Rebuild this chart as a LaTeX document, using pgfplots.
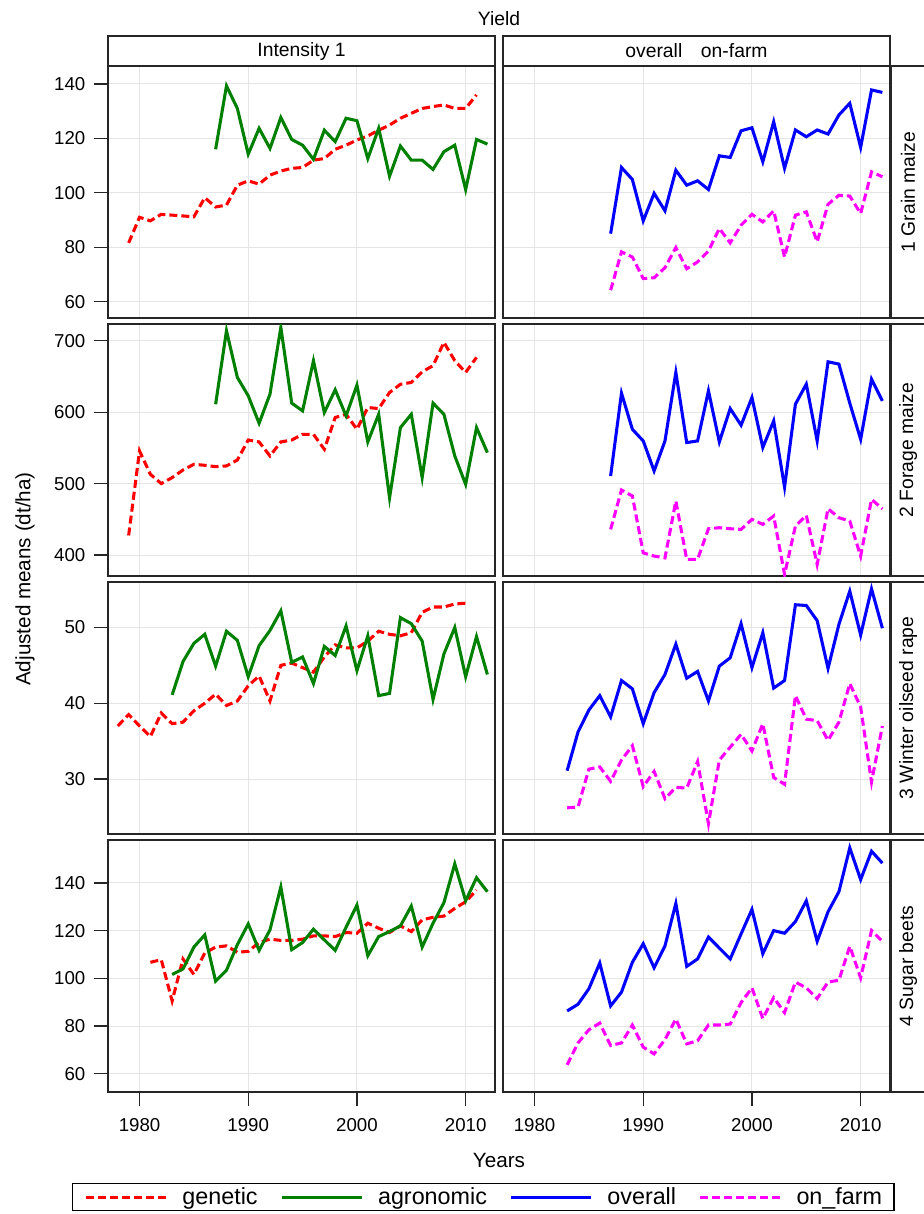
\documentclass[border=0pt]{standalone}
\usepackage{fontspec}
\setmainfont{Liberation Sans}
\usepackage{pgfplots}
\pgfplotsset{compat=1.18}
\definecolor{agrgreen}{RGB}{0,128,0}
\definecolor{onfmag}{RGB}{255,0,255}
\definecolor{ovlblue}{RGB}{0,0,255}
\definecolor{genred}{RGB}{255,0,0}

\pgfplotsset{
  panel/.style={
    scale only axis, width=290.25pt, height=189pt,
    xmin=1977.1, xmax=2012.7,
    xtick={1980,1990,2000,2010},
    grid=major,
    major grid style={black!10, line width=0.7pt},
    axis line style={black!85, line width=1.1pt},
    tick align=outside, major tick length=10.5pt,
    major tick style={black!85, line width=0.9pt},
    xtick pos=bottom, ytick pos=left,
    /pgf/number format/1000 sep={},
    /pgf/number format/assume math mode=true,
    ticklabel style={font=\fontsize{14}{16}\selectfont},
    xticklabel style={yshift=-6pt},
    yticklabel style={xshift=-3pt},
    clip=true,
  },
  nox/.style={xticklabels={}, xtick style={draw=none}},
  noy/.style={yticklabels={}, ytick style={draw=none}},
  row1/.style={ymin=54, ymax=146.6, ytick={60,80,100,120,140}},
  row2/.style={ymin=370.6, ymax=723.4, ytick={400,500,600,700}},
  row3/.style={ymin=22.74, ymax=56.0, ytick={30,40,50}},
  row4/.style={ymin=52.3, ymax=158, ytick={60,80,100,120,140}},
  gen/.style={genred, line width=2.3pt, dash pattern=on 6pt off 3pt},
  agr/.style={agrgreen, line width=2.3pt, solid},
  ovl/.style={ovlblue, line width=2.3pt, solid},
  onf/.style={onfmag, line width=2.3pt, dash pattern=on 6pt off 3pt},
}

\begin{document}
\begin{tikzpicture}
\path[use as bounding box] (0,0) rectangle (693pt,-910.5pt);

% ---------- row 1: grain maize
\begin{axis}[panel, row1, nox, at={(81pt,-49.5pt)}, anchor=north west]
\addplot[gen] coordinates {(1979,81.6)(1980,91)(1981,89.7)(1982,92.1)(1983,91.8)(1984,91.5)(1985,91.2)(1986,98.2)(1987,94.8)(1988,95.5)(1989,102.8)(1990,104.4)(1991,103.2)(1992,106.5)(1993,108)(1994,109)(1995,109.3)(1996,112)(1997,112.6)(1998,116)(1999,117.5)(2000,119.4)(2001,120.9)(2002,123)(2003,124.9)(2004,127.4)(2005,129.2)(2006,131)(2007,131.7)(2008,132.3)(2009,131)(2010,131)(2011,136)};
\addplot[agr] coordinates {(1987,116)(1988,139.3)(1989,131)(1990,114.2)(1991,123.7)(1992,116.3)(1993,127.7)(1994,119.6)(1995,117.5)(1996,112.3)(1997,123)(1998,118.8)(1999,127.4)(2000,126.5)(2001,112.6)(2002,123.7)(2003,106.1)(2004,117.2)(2005,112)(2006,112)(2007,108.6)(2008,115.1)(2009,117.5)(2010,101.2)(2011,119.6)(2012,117.9)};
\end{axis}
\begin{axis}[panel, row1, nox, noy, at={(377.25pt,-49.5pt)}, anchor=north west]
\addplot[ovl] coordinates {(1987,85)(1988,109.3)(1989,104.9)(1990,89.7)(1991,99.8)(1992,93.4)(1993,108.3)(1994,102.8)(1995,104.4)(1996,101.2)(1997,113.6)(1998,113)(1999,122.8)(2000,123.9)(2001,111.4)(2002,126.1)(2003,109)(2004,123.1)(2005,120.6)(2006,123.1)(2007,121.6)(2008,128.6)(2009,132.9)(2010,116.7)(2011,137.8)(2012,136.9)};
\addplot[onf] coordinates {(1987,64.2)(1988,78.3)(1989,76.4)(1990,68.5)(1991,68.8)(1992,72.5)(1993,79.9)(1994,72.1)(1995,74.6)(1996,78.6)(1997,86.9)(1998,81.6)(1999,88.1)(2000,92.1)(2001,89.3)(2002,93.4)(2003,76.4)(2004,91.8)(2005,93)(2006,82)(2007,95.8)(2008,99.1)(2009,98.8)(2010,92.4)(2011,107.7)(2012,105.9)};
\end{axis}

% ---------- row 2: forage maize
\begin{axis}[panel, row2, nox, at={(81pt,-243pt)}, anchor=north west]
\addplot[gen] coordinates {(1979,427.4)(1980,545.7)(1981,513)(1982,500)(1983,508.3)(1984,519)(1985,527)(1986,525.6)(1987,523.7)(1988,524.7)(1989,533)(1990,561)(1991,558.3)(1992,538.7)(1993,558.3)(1994,561)(1995,569)(1996,569)(1997,548)(1998,592.5)(1999,597)(2000,576)(2001,606.5)(2002,605)(2003,627.5)(2004,639)(2005,641.6)(2006,656.5)(2007,665)(2008,697.7)(2009,672)(2010,655.6)(2011,676.6)};
\addplot[agr] coordinates {(1987,611)(1988,714)(1989,648.6)(1990,622.9)(1991,584.5)(1992,625.2)(1993,718.7)(1994,612.6)(1995,601.8)(1996,672)(1997,599.5)(1998,631.3)(1999,594.8)(2000,637.8)(2001,558.3)(2002,597.1)(2003,480)(2004,578.4)(2005,597)(2006,508.3)(2007,612.6)(2008,597)(2009,538.7)(2010,499)(2011,578.4)(2012,543.4)};
\end{axis}
\begin{axis}[panel, row2, nox, noy, at={(377.25pt,-243pt)}, anchor=north west]
\addplot[ovl] coordinates {(1987,510.7)(1988,626.6)(1989,576)(1990,559.7)(1991,517.7)(1992,559.7)(1993,655.6)(1994,557.4)(1995,559.7)(1996,629.9)(1997,558.3)(1998,605)(1999,581.7)(2000,620.5)(2001,550.4)(2002,587.8)(2003,495)(2004,611.2)(2005,639.2)(2006,559.7)(2007,670.5)(2008,667.3)(2009,612.6)(2010,562)(2011,646.2)(2012,615.8)};
\addplot[onf] coordinates {(1987,435.9)(1988,491)(1989,482.6)(1990,403)(1991,398.5)(1992,396)(1993,475.6)(1994,393.8)(1995,393.8)(1996,436.8)(1997,438.2)(1998,436.8)(1999,435.9)(2000,449.9)(2001,442.9)(2002,454.6)(2003,372.7)(2004,440.5)(2005,455.5)(2006,386.8)(2007,464.8)(2008,452.2)(2009,447.5)(2010,398.5)(2011,477.9)(2012,464.8)};
\end{axis}

% ---------- row 3: winter oilseed rape
\begin{axis}[panel, row3, nox, at={(81pt,-436.5pt)}, anchor=north west]
\addplot[gen] coordinates {(1978,37.0)(1979,38.5)(1980,37.0)(1981,35.6)(1982,38.7)(1983,37.3)(1984,37.5)(1985,39.0)(1986,40.0)(1987,41.2)(1988,39.7)(1989,40.3)(1990,42.3)(1991,43.6)(1992,40.3)(1993,45.0)(1994,45.3)(1995,44.7)(1996,44.1)(1997,46.1)(1998,47.7)(1999,47.3)(2000,47.3)(2001,48.2)(2002,49.5)(2003,49.1)(2004,48.9)(2005,49.3)(2006,52.0)(2007,52.7)(2008,52.7)(2009,53.1)(2010,53.2)};
\addplot[agr] coordinates {(1983,41.1)(1984,45.5)(1985,47.9)(1986,49.1)(1987,44.9)(1988,49.5)(1989,48.3)(1990,43.5)(1991,47.6)(1992,49.6)(1993,52.2)(1994,45.4)(1995,46.1)(1996,42.6)(1997,47.5)(1998,46.3)(1999,50.2)(2000,44.3)(2001,48.9)(2002,41.0)(2003,41.3)(2004,51.3)(2005,50.5)(2006,48.2)(2007,40.5)(2008,46.5)(2009,50.0)(2010,43.5)(2011,48.8)(2012,43.8)};
\end{axis}
\begin{axis}[panel, row3, nox, noy, at={(377.25pt,-436.5pt)}, anchor=north west]
\addplot[ovl] coordinates {(1983,31.1)(1984,36.2)(1985,39.1)(1986,41.0)(1987,38.2)(1988,43.0)(1989,41.9)(1990,37.3)(1991,41.4)(1992,43.8)(1993,47.8)(1994,43.3)(1995,44.2)(1996,40.3)(1997,44.9)(1998,46.0)(1999,50.5)(2000,44.7)(2001,49.3)(2002,42.0)(2003,43.0)(2004,53.0)(2005,52.9)(2006,50.9)(2007,44.6)(2008,50.4)(2009,54.8)(2010,49.0)(2011,55.1)(2012,49.9)};
\addplot[onf] coordinates {(1983,26.2)(1984,26.3)(1985,31.3)(1986,31.6)(1987,29.7)(1988,32.5)(1989,34.4)(1990,29.0)(1991,31.0)(1992,27.4)(1993,28.9)(1994,28.8)(1995,32.3)(1996,24.1)(1997,32.5)(1998,34.2)(1999,35.9)(2000,33.7)(2001,37.3)(2002,30.2)(2003,29.3)(2004,41.0)(2005,37.9)(2006,37.7)(2007,35.1)(2008,37.5)(2009,42.6)(2010,39.5)(2011,29.6)(2012,37.0)};
\end{axis}

% ---------- row 4: sugar beets
\begin{axis}[panel, row4, at={(81pt,-630pt)}, anchor=north west,
  legend columns=4,
  legend style={at={(-0.093,-0.361)}, anchor=north west, draw=black, line width=1pt,
    font=\fontsize{17.5}{20}\selectfont, inner xsep=9pt, inner ysep=3pt,
    /tikz/every odd column/.append style={column sep=11pt},
    /tikz/every even column/.append style={column sep=17pt},
    nodes={inner sep=0pt, anchor=west}},
  legend image code/.code={\draw[#1] (0pt,0pt) -- (60pt,0pt);}]
\addplot[gen] coordinates {(1981,106.7)(1982,107.8)(1983,90.5)(1984,108.1)(1985,101.6)(1986,110.6)(1987,113.1)(1988,113.6)(1989,110.9)(1990,111.3)(1991,115)(1992,116.4)(1993,115.9)(1994,115.9)(1995,116.4)(1996,117.8)(1997,117.8)(1998,117.5)(1999,119.2)(2000,118.9)(2001,123.1)(2002,121)(2003,119.2)(2004,122)(2005,119.6)(2006,124.5)(2007,125.6)(2008,126.1)(2009,129.3)(2010,132.1)(2011,137)};
\addlegendentry{genetic}
\addplot[agr] coordinates {(1983,101.6)(1984,103.9)(1985,113.1)(1986,118.2)(1987,98.8)(1988,103.4)(1989,114.1)(1990,122.8)(1991,111.7)(1992,120.3)(1993,138.3)(1994,112)(1995,115)(1996,120.6)(1997,116.1)(1998,111.7)(1999,121.4)(2000,130.7)(2001,109.5)(2002,117.5)(2003,119.6)(2004,122)(2005,130.3)(2006,113.1)(2007,123.1)(2008,131.7)(2009,148)(2010,132.5)(2011,142.2)(2012,136.3)};
\addlegendentry{agronomic}
\addlegendimage{ovl}
\addlegendentry{overall}
\addlegendimage{onf}
\addlegendentry{on\_farm}
\end{axis}
\begin{axis}[panel, row4, noy, at={(377.25pt,-630pt)}, anchor=north west]
\addplot[ovl] coordinates {(1983,86.3)(1984,89.1)(1985,95.6)(1986,106.4)(1987,88.4)(1988,94.2)(1989,106.7)(1990,114.5)(1991,104.4)(1992,113.6)(1993,131.4)(1994,105)(1995,108.1)(1996,117.3)(1997,112.7)(1998,108.1)(1999,118.6)(2000,128.9)(2001,110.3)(2002,120)(2003,118.9)(2004,123.8)(2005,132.5)(2006,115.5)(2007,127.9)(2008,136.3)(2009,154.7)(2010,141.4)(2011,153.3)(2012,148.3)};
\addplot[onf] coordinates {(1983,63.7)(1984,72.9)(1985,78.4)(1986,81.2)(1987,71.8)(1988,72.9)(1989,80.4)(1990,71.1)(1991,68.3)(1992,74.3)(1993,82.9)(1994,72.5)(1995,73.8)(1996,80.4)(1997,80.4)(1998,80.8)(1999,89.8)(2000,96)(2001,83.1)(2002,91.9)(2003,85.6)(2004,98.4)(2005,96)(2006,91.5)(2007,98.4)(2008,99.2)(2009,113.4)(2010,100.2)(2011,120)(2012,115.5)};
\end{axis}

% ---------- strips, titles and labels (pixel units of the reference)
\begin{scope}[x=0.75pt, y=-0.75pt, font=\fontsize{14.5}{17}\selectfont]
  \draw[black!85, line width=1.1pt, fill=white] (108,36) rectangle (495,66);
  \draw[black!85, line width=1.1pt, fill=white] (503,36) rectangle (890,66);
  \node at (301.5,51) {Intensity 1};
  \node at (696.5,51) {overall\hspace{14pt}on-farm};
  \node at (499,19) {Yield};
  \foreach \t/\lab in {66/1 Grain maize, 324/2 Forage maize, 582/3 Winter oilseed rape, 840/4 Sugar beets} {
    \draw[black!85, line width=1.1pt] (891,\t) rectangle (940,\t+252);
    \node[rotate=90] at (908,\t+126) {\lab};
  }
  \node at (499,1160) {\fontsize{15.5}{18}\selectfont Years};
  \node[rotate=90] at (25,579) {\fontsize{15.5}{18}\selectfont Adjusted means (dt/ha)};
\end{scope}
\end{tikzpicture}
\end{document}
